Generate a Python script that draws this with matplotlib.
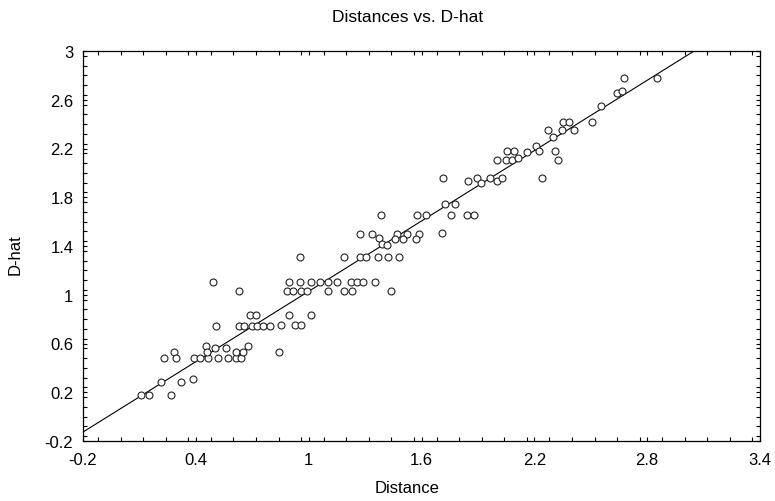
import numpy as np
import matplotlib
matplotlib.use("Agg")
import matplotlib.pyplot as plt
from matplotlib.ticker import MultipleLocator

# -----------------------------------
# Data
# -----------------------------------
distance = [
    0.493, 0.631, 0.688, 0.719, 0.507,
    0.631, 0.658, 0.697, 0.724, 0.759, 0.795,
    0.454, 0.502, 0.559, 0.676, 0.284, 0.843,
    0.232, 0.296, 0.392, 0.422, 0.466, 0.520, 0.571, 0.612, 0.642,
    0.458, 0.614, 0.649, 0.213, 0.320, 0.383, 0.107, 0.149, 0.270,
    1.385, 1.578, 1.623,
    1.273, 1.337, 1.469, 1.523, 1.587, 1.374, 1.571,
    1.389, 1.419, 1.460, 1.504,
    0.956, 1.188, 1.273, 1.305, 1.368, 1.424, 1.481,
    0.894, 0.954, 1.011, 1.061, 1.105, 1.153, 1.224, 1.259, 1.288, 1.352,
    0.884, 0.919, 0.958, 0.993, 1.102, 1.190, 1.229, 1.437,
    0.894, 1.013, 0.855, 0.928, 0.958,
    2.853, 2.676, 2.639, 2.667, 2.554, 2.509,
    2.352, 2.384, 2.272, 2.348, 2.410, 2.298,
    2.211, 2.224, 2.311, 2.328, 2.160, 2.054, 2.093,
    2.004, 2.050, 2.080, 2.115, 2.241, 1.713,
    1.848, 1.897, 1.915, 1.965, 2.004, 2.030,
    1.724, 1.780, 1.756, 1.843, 1.880, 1.708,
]
d_hat = [
    1.107, 1.028, 0.834, 0.834, 0.746,
    0.746, 0.746, 0.746, 0.746, 0.746, 0.746,
    0.577, 0.560, 0.560, 0.577, 0.528, 0.528,
    0.481, 0.481, 0.481, 0.481, 0.481, 0.481, 0.481, 0.481, 0.481,
    0.528, 0.528, 0.528, 0.286, 0.286, 0.306, 0.180, 0.180, 0.180,
    1.656, 1.656, 1.656,
    1.501, 1.501, 1.501, 1.501, 1.501, 1.465, 1.457,
    1.416, 1.408, 1.457, 1.457,
    1.309, 1.309, 1.309, 1.309, 1.309, 1.309, 1.309,
    1.107, 1.107, 1.107, 1.107, 1.107, 1.107, 1.107, 1.107, 1.107, 1.107,
    1.028, 1.028, 1.028, 1.028, 1.028, 1.028, 1.028, 1.028,
    0.836, 0.836, 0.752, 0.752, 0.752,
    2.775, 2.775, 2.652, 2.671, 2.546, 2.419,
    2.419, 2.419, 2.351, 2.351, 2.351, 2.294,
    2.218, 2.179, 2.179, 2.103, 2.168, 2.179, 2.179,
    2.103, 2.103, 2.103, 2.119, 1.957, 1.957,
    1.935, 1.957, 1.914, 1.957, 1.935, 1.957,
    1.744, 1.744, 1.656, 1.656, 1.656, 1.504,
]

# fitted line
fit_intercept = 0.066
fit_slope = 0.962

x_ticks = [-0.2, 0.4, 1, 1.6, 2.2, 2.8, 3.4]
x_tick_labels = ["-0.2", "0.4", "1", "1.6", "2.2", "2.8", "3.4"]
y_ticks = [-0.2, 0.2, 0.6, 1, 1.4, 1.8, 2.2, 2.6, 3]
y_tick_labels = ["-0.2", "0.2", "0.6", "1", "1.4", "1.8", "2.2", "2.6", "3"]

# -----------------------------------
# Plot
# -----------------------------------
plt.rcParams["font.family"] = ["Liberation Sans Narrow", "Liberation Sans", "DejaVu Sans"]

fig = plt.figure(figsize=(7.75, 5.02), dpi=100)
ax = fig.add_axes([83 / 775, 1 - 442 / 502, 677 / 775, 390 / 502])

line_x = np.linspace(-0.2, 3.4, 200)
ax.plot(line_x, fit_intercept + fit_slope * line_x, color="black", lw=0.8)
ax.plot(distance, d_hat, "o", mfc="white", mec="#222222", mew=0.8, ms=5, ls="none")

ax.set_xlim(-0.2, 3.4)
ax.set_ylim(-0.2, 3)
ax.set_xticks(x_ticks)
ax.set_xticklabels(x_tick_labels)
ax.set_yticks(y_ticks)
ax.set_yticklabels(y_tick_labels)
ax.xaxis.set_minor_locator(MultipleLocator(0.12))
ax.yaxis.set_minor_locator(MultipleLocator(0.08))
ax.tick_params(which="both", direction="in", top=True, right=True,
               length=3, width=0.8, labelsize=12, color="black")
ax.tick_params(axis="x", pad=8)
ax.tick_params(axis="y", pad=7)
for s in ax.spines.values():
    s.set_linewidth(0.9)

fig.text(408 / 775, 1 - 18 / 502, "Distances vs. D-hat", ha="center", va="center", fontsize=12.5)
fig.text(407 / 775, 1 - 489 / 502, "Distance", ha="center", va="center", fontsize=12)
fig.text(15 / 775, 1 - 255 / 502, "D-hat", ha="center", va="center", rotation=90, fontsize=12)

fig.savefig("out.png", dpi=100)
